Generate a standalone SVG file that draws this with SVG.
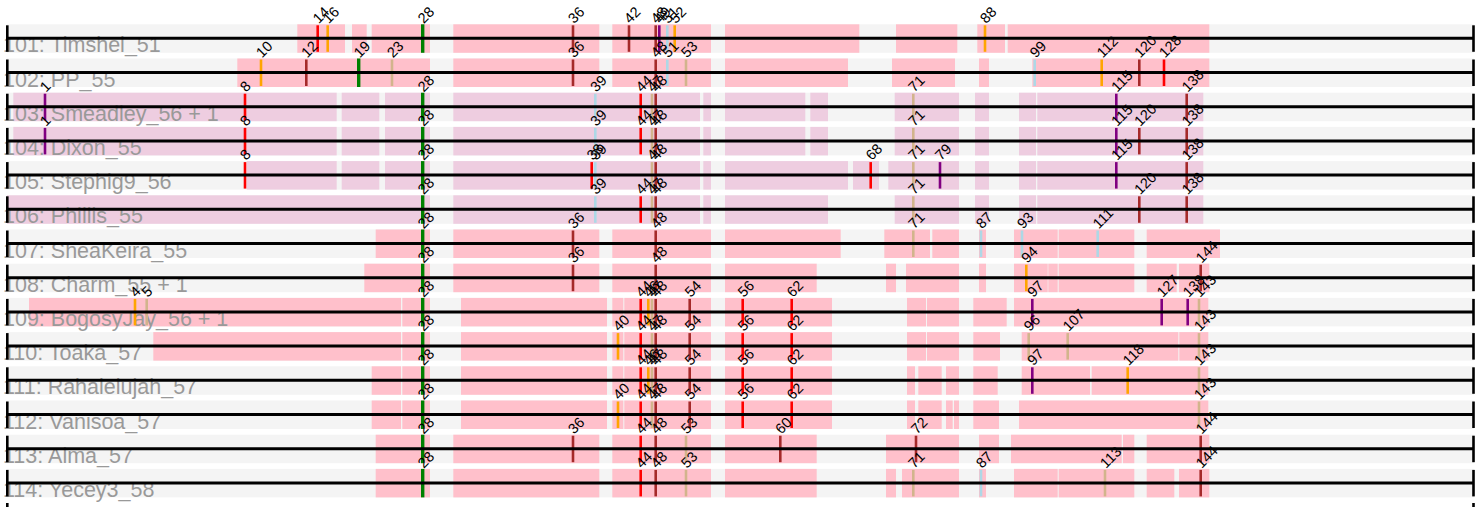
<svg xmlns="http://www.w3.org/2000/svg" width="1484" height="507" viewBox="0 0 1484 507">
<style>
.band{fill:#f4f4f4}
.pk{fill:#ffc0cb}
.mv{fill:#eecde0}
.nm{font-family:"Liberation Sans",Arial,sans-serif;font-size:21.5px;fill:#999999}
.lb{font-family:"Liberation Sans",Arial,sans-serif;font-size:14.5px;fill:#000000}
.ml{stroke:#000;stroke-width:3}
.tk{stroke:#000;stroke-width:2.6}
.m{stroke-width:2.6}
.r{stroke:#ff0000}.o{stroke:#ffa500}.g{stroke:#008000;stroke-width:3.4}.b{stroke:#a52a2a}.t{stroke:#d2b48c}.l{stroke:#add8e6}.p{stroke:#800080}
</style>
<g id="row101" transform="translate(0,38.3)">
<rect class="band" x="7" y="-14" width="1467" height="28.5"/>
<rect class="pk" x="297.3" y="-14" width="47.7" height="28.5"/><rect class="pk" x="352" y="-14" width="14.7" height="28.5"/><rect class="pk" x="371.7" y="-14" width="58.3" height="28.5"/><rect class="pk" x="453.3" y="-14" width="146" height="28.5"/><rect class="pk" x="612.3" y="-14" width="98.7" height="28.5"/><rect class="pk" x="725" y="-14" width="134.3" height="28.5"/><rect class="pk" x="896" y="-14" width="61.3" height="28.5"/><rect class="pk" x="977.3" y="-14" width="27.7" height="28.5"/><rect class="pk" x="1007.7" y="-14" width="201.6" height="28.5"/>
<text class="nm" x="3" y="14">101: Timshel_51</text>
<line class="m r" x1="317.7" x2="317.7" y1="-13" y2="13.5"/><line class="m o" x1="327.7" x2="327.7" y1="-13" y2="13.5"/><line class="m g" x1="422.7" x2="422.7" y1="-14" y2="14.5"/><line class="m b" x1="573" x2="573" y1="-13" y2="13.5"/><line class="m b" x1="629" x2="629" y1="-13" y2="13.5"/><line class="m b" x1="655.7" x2="655.7" y1="-13" y2="13.5"/><line class="m p" x1="659.3" x2="659.3" y1="-13" y2="13.5"/><line class="m l" x1="667.3" x2="667.3" y1="-13" y2="13.5"/><line class="m o" x1="674.7" x2="674.7" y1="-13" y2="13.5"/><line class="m o" x1="985" x2="985" y1="-13" y2="13.5"/>
<line class="ml" x1="7" x2="1474" y1="0" y2="0"/><line class="tk" x1="7.3" x2="7.3" y1="-13" y2="13.5"/><line class="tk" x1="1473.5" x2="1473.5" y1="-13" y2="13.5"/>
<text class="lb" transform="translate(318.7,-14) rotate(-45)">14</text><text class="lb" transform="translate(328.7,-14) rotate(-45)">16</text><text class="lb" transform="translate(423.7,-14) rotate(-45)">28</text><text class="lb" transform="translate(574,-14) rotate(-45)">36</text><text class="lb" transform="translate(630,-14) rotate(-45)">42</text><text class="lb" transform="translate(656.7,-14) rotate(-45)">48</text><text class="lb" transform="translate(660.3,-14) rotate(-45)">49</text><text class="lb" transform="translate(668.3,-14) rotate(-45)">51</text><text class="lb" transform="translate(675.7,-14) rotate(-45)">52</text><text class="lb" transform="translate(986,-14) rotate(-45)">88</text>
</g>
<g id="row102" transform="translate(0,72.5)">
<rect class="band" x="7" y="-14" width="1467" height="28.5"/>
<rect class="pk" x="237.3" y="-14" width="192.7" height="28.5"/><rect class="pk" x="453.3" y="-14" width="146" height="28.5"/><rect class="pk" x="612.3" y="-14" width="98.7" height="28.5"/><rect class="pk" x="725" y="-14" width="123" height="28.5"/><rect class="pk" x="892" y="-14" width="63" height="28.5"/><rect class="pk" x="979" y="-14" width="10" height="28.5"/><rect class="pk" x="1032.3" y="-14" width="177" height="28.5"/>
<text class="nm" x="3" y="14">102: PP_55</text>
<line class="m o" x1="261" x2="261" y1="-13" y2="13.5"/><line class="m b" x1="306.3" x2="306.3" y1="-13" y2="13.5"/><line class="m g" x1="358.7" x2="358.7" y1="-14" y2="14.5"/><line class="m t" x1="392" x2="392" y1="-13" y2="13.5"/><line class="m b" x1="573" x2="573" y1="-13" y2="13.5"/><line class="m b" x1="655.7" x2="655.7" y1="-13" y2="13.5"/><line class="m l" x1="667.3" x2="667.3" y1="-13" y2="13.5"/><line class="m t" x1="686" x2="686" y1="-13" y2="13.5"/><line class="m l" x1="1034.7" x2="1034.7" y1="-13" y2="13.5"/><line class="m o" x1="1101.7" x2="1101.7" y1="-13" y2="13.5"/><line class="m b" x1="1139.3" x2="1139.3" y1="-13" y2="13.5"/><line class="m r" x1="1164" x2="1164" y1="-13" y2="13.5"/>
<line class="ml" x1="7" x2="1474" y1="0" y2="0"/><line class="tk" x1="7.3" x2="7.3" y1="-13" y2="13.5"/><line class="tk" x1="1473.5" x2="1473.5" y1="-13" y2="13.5"/>
<text class="lb" transform="translate(262,-14) rotate(-45)">10</text><text class="lb" transform="translate(307.3,-14) rotate(-45)">12</text><text class="lb" transform="translate(359.7,-14) rotate(-45)">19</text><text class="lb" transform="translate(393,-14) rotate(-45)">23</text><text class="lb" transform="translate(574,-14) rotate(-45)">36</text><text class="lb" transform="translate(656.7,-14) rotate(-45)">48</text><text class="lb" transform="translate(668.3,-14) rotate(-45)">51</text><text class="lb" transform="translate(687,-14) rotate(-45)">53</text><text class="lb" transform="translate(1035.7,-14) rotate(-45)">99</text><text class="lb" transform="translate(1102.7,-14) rotate(-45)">112</text><text class="lb" transform="translate(1140.3,-14) rotate(-45)">120</text><text class="lb" transform="translate(1165,-14) rotate(-45)">128</text>
</g>
<g id="row103" transform="translate(0,106.7)">
<rect class="band" x="7" y="-14" width="1467" height="28.5"/>
<rect class="mv" x="13.3" y="-14" width="323.4" height="28.5"/><rect class="mv" x="341.7" y="-14" width="37.6" height="28.5"/><rect class="mv" x="385" y="-14" width="45" height="28.5"/><rect class="mv" x="453.3" y="-14" width="246.7" height="28.5"/><rect class="mv" x="703.3" y="-14" width="7.7" height="28.5"/><rect class="mv" x="725" y="-14" width="80.3" height="28.5"/><rect class="mv" x="810.3" y="-14" width="17.7" height="28.5"/><rect class="mv" x="894.7" y="-14" width="64.3" height="28.5"/><rect class="mv" x="975" y="-14" width="14" height="28.5"/><rect class="mv" x="1019" y="-14" width="17" height="28.5"/><rect class="mv" x="1037.3" y="-14" width="166" height="28.5"/>
<text class="nm" x="3" y="14">103: Smeadley_56 + 1</text>
<line class="m p" x1="45" x2="45" y1="-13" y2="13.5"/><line class="m r" x1="245" x2="245" y1="-13" y2="13.5"/><line class="m g" x1="422.7" x2="422.7" y1="-14" y2="14.5"/><line class="m l" x1="595.3" x2="595.3" y1="-13" y2="13.5"/><line class="m r" x1="640.7" x2="640.7" y1="-13" y2="13.5"/><line class="m t" x1="652" x2="652" y1="-13" y2="13.5"/><line class="m b" x1="655.7" x2="655.7" y1="-13" y2="13.5"/><line class="m t" x1="913.3" x2="913.3" y1="-13" y2="13.5"/><line class="m p" x1="1116.3" x2="1116.3" y1="-13" y2="13.5"/><line class="m b" x1="1186.7" x2="1186.7" y1="-13" y2="13.5"/>
<line class="ml" x1="7" x2="1474" y1="0" y2="0"/><line class="tk" x1="7.3" x2="7.3" y1="-13" y2="13.5"/><line class="tk" x1="1473.5" x2="1473.5" y1="-13" y2="13.5"/>
<text class="lb" transform="translate(46,-14) rotate(-45)">1</text><text class="lb" transform="translate(246,-14) rotate(-45)">8</text><text class="lb" transform="translate(423.7,-14) rotate(-45)">28</text><text class="lb" transform="translate(596.3,-14) rotate(-45)">39</text><text class="lb" transform="translate(641.7,-14) rotate(-45)">44</text><text class="lb" transform="translate(653,-14) rotate(-45)">47</text><text class="lb" transform="translate(656.7,-14) rotate(-45)">48</text><text class="lb" transform="translate(914.3,-14) rotate(-45)">71</text><text class="lb" transform="translate(1117.3,-14) rotate(-45)">115</text><text class="lb" transform="translate(1187.7,-14) rotate(-45)">138</text>
</g>
<g id="row104" transform="translate(0,140.9)">
<rect class="band" x="7" y="-14" width="1467" height="28.5"/>
<rect class="mv" x="13.3" y="-14" width="323.4" height="28.5"/><rect class="mv" x="341.7" y="-14" width="37.6" height="28.5"/><rect class="mv" x="385" y="-14" width="45" height="28.5"/><rect class="mv" x="453.3" y="-14" width="246.7" height="28.5"/><rect class="mv" x="703.3" y="-14" width="7.7" height="28.5"/><rect class="mv" x="725" y="-14" width="80.3" height="28.5"/><rect class="mv" x="810.3" y="-14" width="17.7" height="28.5"/><rect class="mv" x="894.7" y="-14" width="64.3" height="28.5"/><rect class="mv" x="975" y="-14" width="14" height="28.5"/><rect class="mv" x="1019" y="-14" width="17" height="28.5"/><rect class="mv" x="1037.3" y="-14" width="166" height="28.5"/>
<text class="nm" x="3" y="14">104: Dixon_55</text>
<line class="m p" x1="45" x2="45" y1="-13" y2="13.5"/><line class="m r" x1="245" x2="245" y1="-13" y2="13.5"/><line class="m g" x1="422.7" x2="422.7" y1="-14" y2="14.5"/><line class="m l" x1="595.3" x2="595.3" y1="-13" y2="13.5"/><line class="m r" x1="640.7" x2="640.7" y1="-13" y2="13.5"/><line class="m t" x1="652" x2="652" y1="-13" y2="13.5"/><line class="m b" x1="655.7" x2="655.7" y1="-13" y2="13.5"/><line class="m t" x1="913.3" x2="913.3" y1="-13" y2="13.5"/><line class="m p" x1="1116.3" x2="1116.3" y1="-13" y2="13.5"/><line class="m b" x1="1139.3" x2="1139.3" y1="-13" y2="13.5"/><line class="m b" x1="1186.7" x2="1186.7" y1="-13" y2="13.5"/>
<line class="ml" x1="7" x2="1474" y1="0" y2="0"/><line class="tk" x1="7.3" x2="7.3" y1="-13" y2="13.5"/><line class="tk" x1="1473.5" x2="1473.5" y1="-13" y2="13.5"/>
<text class="lb" transform="translate(46,-14) rotate(-45)">1</text><text class="lb" transform="translate(246,-14) rotate(-45)">8</text><text class="lb" transform="translate(423.7,-14) rotate(-45)">28</text><text class="lb" transform="translate(596.3,-14) rotate(-45)">39</text><text class="lb" transform="translate(641.7,-14) rotate(-45)">44</text><text class="lb" transform="translate(653,-14) rotate(-45)">47</text><text class="lb" transform="translate(656.7,-14) rotate(-45)">48</text><text class="lb" transform="translate(914.3,-14) rotate(-45)">71</text><text class="lb" transform="translate(1117.3,-14) rotate(-45)">115</text><text class="lb" transform="translate(1140.3,-14) rotate(-45)">120</text><text class="lb" transform="translate(1187.7,-14) rotate(-45)">138</text>
</g>
<g id="row105" transform="translate(0,175.1)">
<rect class="band" x="7" y="-14" width="1467" height="28.5"/>
<rect class="mv" x="246.7" y="-14" width="90" height="28.5"/><rect class="mv" x="341.7" y="-14" width="37.6" height="28.5"/><rect class="mv" x="385" y="-14" width="45" height="28.5"/><rect class="mv" x="453.3" y="-14" width="246.7" height="28.5"/><rect class="mv" x="703.3" y="-14" width="7.7" height="28.5"/><rect class="mv" x="725" y="-14" width="123" height="28.5"/><rect class="mv" x="853" y="-14" width="26" height="28.5"/><rect class="mv" x="888.3" y="-14" width="70.7" height="28.5"/><rect class="mv" x="975" y="-14" width="14" height="28.5"/><rect class="mv" x="1019" y="-14" width="17" height="28.5"/><rect class="mv" x="1037.3" y="-14" width="166" height="28.5"/>
<text class="nm" x="3" y="14">105: Stephig9_56</text>
<line class="m r" x1="245" x2="245" y1="-13" y2="13.5"/><line class="m g" x1="422.7" x2="422.7" y1="-14" y2="14.5"/><line class="m r" x1="591.7" x2="591.7" y1="-13" y2="13.5"/><line class="m l" x1="595.3" x2="595.3" y1="-13" y2="13.5"/><line class="m t" x1="652" x2="652" y1="-13" y2="13.5"/><line class="m b" x1="655.7" x2="655.7" y1="-13" y2="13.5"/><line class="m r" x1="870.7" x2="870.7" y1="-13" y2="13.5"/><line class="m t" x1="913.3" x2="913.3" y1="-13" y2="13.5"/><line class="m p" x1="940" x2="940" y1="-13" y2="13.5"/><line class="m p" x1="1116.3" x2="1116.3" y1="-13" y2="13.5"/><line class="m b" x1="1186.7" x2="1186.7" y1="-13" y2="13.5"/>
<line class="ml" x1="7" x2="1474" y1="0" y2="0"/><line class="tk" x1="7.3" x2="7.3" y1="-13" y2="13.5"/><line class="tk" x1="1473.5" x2="1473.5" y1="-13" y2="13.5"/>
<text class="lb" transform="translate(246,-14) rotate(-45)">8</text><text class="lb" transform="translate(423.7,-14) rotate(-45)">28</text><text class="lb" transform="translate(592.7,-14) rotate(-45)">38</text><text class="lb" transform="translate(596.3,-14) rotate(-45)">39</text><text class="lb" transform="translate(653,-14) rotate(-45)">47</text><text class="lb" transform="translate(656.7,-14) rotate(-45)">48</text><text class="lb" transform="translate(871.7,-14) rotate(-45)">68</text><text class="lb" transform="translate(914.3,-14) rotate(-45)">71</text><text class="lb" transform="translate(941,-14) rotate(-45)">79</text><text class="lb" transform="translate(1117.3,-14) rotate(-45)">115</text><text class="lb" transform="translate(1187.7,-14) rotate(-45)">138</text>
</g>
<g id="row106" transform="translate(0,209.3)">
<rect class="band" x="7" y="-14" width="1467" height="28.5"/>
<rect class="mv" x="7" y="-14" width="423" height="28.5"/><rect class="mv" x="453.3" y="-14" width="246.7" height="28.5"/><rect class="mv" x="703.3" y="-14" width="7.7" height="28.5"/><rect class="mv" x="725" y="-14" width="103" height="28.5"/><rect class="mv" x="894.7" y="-14" width="64.3" height="28.5"/><rect class="mv" x="975" y="-14" width="14" height="28.5"/><rect class="mv" x="1019" y="-14" width="17" height="28.5"/><rect class="mv" x="1037.3" y="-14" width="166" height="28.5"/>
<text class="nm" x="3" y="14">106: Phillis_55</text>
<line class="m g" x1="422.7" x2="422.7" y1="-14" y2="14.5"/><line class="m l" x1="595.3" x2="595.3" y1="-13" y2="13.5"/><line class="m r" x1="640.7" x2="640.7" y1="-13" y2="13.5"/><line class="m t" x1="652" x2="652" y1="-13" y2="13.5"/><line class="m b" x1="655.7" x2="655.7" y1="-13" y2="13.5"/><line class="m t" x1="913.3" x2="913.3" y1="-13" y2="13.5"/><line class="m b" x1="1139.3" x2="1139.3" y1="-13" y2="13.5"/><line class="m b" x1="1186.7" x2="1186.7" y1="-13" y2="13.5"/>
<line class="ml" x1="7" x2="1474" y1="0" y2="0"/><line class="tk" x1="7.3" x2="7.3" y1="-13" y2="13.5"/><line class="tk" x1="1473.5" x2="1473.5" y1="-13" y2="13.5"/>
<text class="lb" transform="translate(423.7,-14) rotate(-45)">28</text><text class="lb" transform="translate(596.3,-14) rotate(-45)">39</text><text class="lb" transform="translate(641.7,-14) rotate(-45)">44</text><text class="lb" transform="translate(653,-14) rotate(-45)">47</text><text class="lb" transform="translate(656.7,-14) rotate(-45)">48</text><text class="lb" transform="translate(914.3,-14) rotate(-45)">71</text><text class="lb" transform="translate(1140.3,-14) rotate(-45)">120</text><text class="lb" transform="translate(1187.7,-14) rotate(-45)">138</text>
</g>
<g id="row107" transform="translate(0,243.5)">
<rect class="band" x="7" y="-14" width="1467" height="28.5"/>
<rect class="pk" x="375.7" y="-14" width="54.3" height="28.5"/><rect class="pk" x="453.3" y="-14" width="146" height="28.5"/><rect class="pk" x="612.3" y="-14" width="98.7" height="28.5"/><rect class="pk" x="725" y="-14" width="115.7" height="28.5"/><rect class="pk" x="884.3" y="-14" width="45.7" height="28.5"/><rect class="pk" x="932.3" y="-14" width="26.7" height="28.5"/><rect class="pk" x="979" y="-14" width="7" height="28.5"/><rect class="pk" x="1014" y="-14" width="43.7" height="28.5"/><rect class="pk" x="1058.7" y="-14" width="75.6" height="28.5"/><rect class="pk" x="1146.7" y="-14" width="73.3" height="28.5"/>
<text class="nm" x="3" y="14">107: SheaKeira_55</text>
<line class="m g" x1="422.7" x2="422.7" y1="-14" y2="14.5"/><line class="m b" x1="573" x2="573" y1="-13" y2="13.5"/><line class="m b" x1="655.7" x2="655.7" y1="-13" y2="13.5"/><line class="m t" x1="913.3" x2="913.3" y1="-13" y2="13.5"/><line class="m l" x1="981" x2="981" y1="-13" y2="13.5"/><line class="m l" x1="1022" x2="1022" y1="-13" y2="13.5"/><line class="m l" x1="1097.7" x2="1097.7" y1="-13" y2="13.5"/>
<line class="ml" x1="7" x2="1474" y1="0" y2="0"/><line class="tk" x1="7.3" x2="7.3" y1="-13" y2="13.5"/><line class="tk" x1="1473.5" x2="1473.5" y1="-13" y2="13.5"/>
<text class="lb" transform="translate(423.7,-14) rotate(-45)">28</text><text class="lb" transform="translate(574,-14) rotate(-45)">36</text><text class="lb" transform="translate(656.7,-14) rotate(-45)">48</text><text class="lb" transform="translate(914.3,-14) rotate(-45)">71</text><text class="lb" transform="translate(982,-14) rotate(-45)">87</text><text class="lb" transform="translate(1023,-14) rotate(-45)">93</text><text class="lb" transform="translate(1098.7,-14) rotate(-45)">111</text>
</g>
<g id="row108" transform="translate(0,277.7)">
<rect class="band" x="7" y="-14" width="1467" height="28.5"/>
<rect class="pk" x="364.3" y="-14" width="65.7" height="28.5"/><rect class="pk" x="453.3" y="-14" width="146" height="28.5"/><rect class="pk" x="612.3" y="-14" width="98.7" height="28.5"/><rect class="pk" x="725" y="-14" width="91.7" height="28.5"/><rect class="pk" x="886" y="-14" width="10" height="28.5"/><rect class="pk" x="906" y="-14" width="53" height="28.5"/><rect class="pk" x="979" y="-14" width="7" height="28.5"/><rect class="pk" x="1014" y="-14" width="33.7" height="28.5"/><rect class="pk" x="1048.3" y="-14" width="9.4" height="28.5"/><rect class="pk" x="1058.7" y="-14" width="75.6" height="28.5"/><rect class="pk" x="1146.7" y="-14" width="30" height="28.5"/><rect class="pk" x="1179" y="-14" width="30.3" height="28.5"/>
<text class="nm" x="3" y="14">108: Charm_55 + 1</text>
<line class="m g" x1="422.7" x2="422.7" y1="-14" y2="14.5"/><line class="m b" x1="573" x2="573" y1="-13" y2="13.5"/><line class="m b" x1="655.7" x2="655.7" y1="-13" y2="13.5"/><line class="m o" x1="1026.3" x2="1026.3" y1="-13" y2="13.5"/><line class="m b" x1="1200.7" x2="1200.7" y1="-13" y2="13.5"/>
<line class="ml" x1="7" x2="1474" y1="0" y2="0"/><line class="tk" x1="7.3" x2="7.3" y1="-13" y2="13.5"/><line class="tk" x1="1473.5" x2="1473.5" y1="-13" y2="13.5"/>
<text class="lb" transform="translate(423.7,-14) rotate(-45)">28</text><text class="lb" transform="translate(574,-14) rotate(-45)">36</text><text class="lb" transform="translate(656.7,-14) rotate(-45)">48</text><text class="lb" transform="translate(1027.3,-14) rotate(-45)">94</text><text class="lb" transform="translate(1201.7,-14) rotate(-45)">144</text>
</g>
<g id="row109" transform="translate(0,311.9)">
<rect class="band" x="7" y="-14" width="1467" height="28.5"/>
<rect class="pk" x="29" y="-14" width="372" height="28.5"/><rect class="pk" x="402.3" y="-14" width="27.7" height="28.5"/><rect class="pk" x="461" y="-14" width="146" height="28.5"/><rect class="pk" x="612.3" y="-14" width="11" height="28.5"/><rect class="pk" x="624.3" y="-14" width="86.7" height="28.5"/><rect class="pk" x="725" y="-14" width="107" height="28.5"/><rect class="pk" x="907" y="-14" width="19" height="28.5"/><rect class="pk" x="927" y="-14" width="32" height="28.5"/><rect class="pk" x="973.3" y="-14" width="33.4" height="28.5"/><rect class="pk" x="1014" y="-14" width="194.3" height="28.5"/>
<text class="nm" x="3" y="14">109: BogosyJay_56 + 1</text>
<line class="m o" x1="135" x2="135" y1="-13" y2="13.5"/><line class="m t" x1="146.7" x2="146.7" y1="-13" y2="13.5"/><line class="m g" x1="422.7" x2="422.7" y1="-14" y2="14.5"/><line class="m r" x1="640.7" x2="640.7" y1="-13" y2="13.5"/><line class="m o" x1="648.3" x2="648.3" y1="-13" y2="13.5"/><line class="m t" x1="652" x2="652" y1="-13" y2="13.5"/><line class="m b" x1="655.7" x2="655.7" y1="-13" y2="13.5"/><line class="m b" x1="689.7" x2="689.7" y1="-13" y2="13.5"/><line class="m r" x1="742.7" x2="742.7" y1="-13" y2="13.5"/><line class="m r" x1="791.7" x2="791.7" y1="-13" y2="13.5"/><line class="m p" x1="1032.3" x2="1032.3" y1="-13" y2="13.5"/><line class="m p" x1="1161.7" x2="1161.7" y1="-13" y2="13.5"/><line class="m p" x1="1187.7" x2="1187.7" y1="-13" y2="13.5"/><line class="m t" x1="1199" x2="1199" y1="-13" y2="13.5"/>
<line class="ml" x1="7" x2="1474" y1="0" y2="0"/><line class="tk" x1="7.3" x2="7.3" y1="-13" y2="13.5"/><line class="tk" x1="1473.5" x2="1473.5" y1="-13" y2="13.5"/>
<text class="lb" transform="translate(136,-14) rotate(-45)">4</text><text class="lb" transform="translate(147.7,-14) rotate(-45)">5</text><text class="lb" transform="translate(423.7,-14) rotate(-45)">28</text><text class="lb" transform="translate(641.7,-14) rotate(-45)">44</text><text class="lb" transform="translate(649.3,-14) rotate(-45)">46</text><text class="lb" transform="translate(653,-14) rotate(-45)">47</text><text class="lb" transform="translate(656.7,-14) rotate(-45)">48</text><text class="lb" transform="translate(690.7,-14) rotate(-45)">54</text><text class="lb" transform="translate(743.7,-14) rotate(-45)">56</text><text class="lb" transform="translate(792.7,-14) rotate(-45)">62</text><text class="lb" transform="translate(1033.3,-14) rotate(-45)">97</text><text class="lb" transform="translate(1162.7,-14) rotate(-45)">127</text><text class="lb" transform="translate(1188.7,-14) rotate(-45)">138</text><text class="lb" transform="translate(1200,-14) rotate(-45)">143</text>
</g>
<g id="row110" transform="translate(0,346.1)">
<rect class="band" x="7" y="-14" width="1467" height="28.5"/>
<rect class="pk" x="153.3" y="-14" width="247.7" height="28.5"/><rect class="pk" x="402.3" y="-14" width="27.7" height="28.5"/><rect class="pk" x="461" y="-14" width="146" height="28.5"/><rect class="pk" x="612.3" y="-14" width="11" height="28.5"/><rect class="pk" x="624.3" y="-14" width="86.7" height="28.5"/><rect class="pk" x="725" y="-14" width="107" height="28.5"/><rect class="pk" x="907" y="-14" width="19" height="28.5"/><rect class="pk" x="927" y="-14" width="32" height="28.5"/><rect class="pk" x="973.3" y="-14" width="26.7" height="28.5"/><rect class="pk" x="1021.7" y="-14" width="156.6" height="28.5"/><rect class="pk" x="1179.3" y="-14" width="29" height="28.5"/>
<text class="nm" x="3" y="14">110: Toaka_57</text>
<line class="m g" x1="422.7" x2="422.7" y1="-14" y2="14.5"/><line class="m o" x1="618" x2="618" y1="-13" y2="13.5"/><line class="m r" x1="640.7" x2="640.7" y1="-13" y2="13.5"/><line class="m t" x1="652" x2="652" y1="-13" y2="13.5"/><line class="m b" x1="655.7" x2="655.7" y1="-13" y2="13.5"/><line class="m b" x1="689.7" x2="689.7" y1="-13" y2="13.5"/><line class="m r" x1="742.7" x2="742.7" y1="-13" y2="13.5"/><line class="m r" x1="791.7" x2="791.7" y1="-13" y2="13.5"/><line class="m t" x1="1028.7" x2="1028.7" y1="-13" y2="13.5"/><line class="m t" x1="1067.7" x2="1067.7" y1="-13" y2="13.5"/><line class="m t" x1="1199" x2="1199" y1="-13" y2="13.5"/>
<line class="ml" x1="7" x2="1474" y1="0" y2="0"/><line class="tk" x1="7.3" x2="7.3" y1="-13" y2="13.5"/><line class="tk" x1="1473.5" x2="1473.5" y1="-13" y2="13.5"/>
<text class="lb" transform="translate(423.7,-14) rotate(-45)">28</text><text class="lb" transform="translate(619,-14) rotate(-45)">40</text><text class="lb" transform="translate(641.7,-14) rotate(-45)">44</text><text class="lb" transform="translate(653,-14) rotate(-45)">47</text><text class="lb" transform="translate(656.7,-14) rotate(-45)">48</text><text class="lb" transform="translate(690.7,-14) rotate(-45)">54</text><text class="lb" transform="translate(743.7,-14) rotate(-45)">56</text><text class="lb" transform="translate(792.7,-14) rotate(-45)">62</text><text class="lb" transform="translate(1029.7,-14) rotate(-45)">96</text><text class="lb" transform="translate(1068.7,-14) rotate(-45)">107</text><text class="lb" transform="translate(1200,-14) rotate(-45)">143</text>
</g>
<g id="row111" transform="translate(0,380.3)">
<rect class="band" x="7" y="-14" width="1467" height="28.5"/>
<rect class="pk" x="371.7" y="-14" width="29.3" height="28.5"/><rect class="pk" x="402.3" y="-14" width="27.7" height="28.5"/><rect class="pk" x="461" y="-14" width="146" height="28.5"/><rect class="pk" x="612.3" y="-14" width="11" height="28.5"/><rect class="pk" x="624.3" y="-14" width="86.7" height="28.5"/><rect class="pk" x="725" y="-14" width="107" height="28.5"/><rect class="pk" x="907" y="-14" width="8" height="28.5"/><rect class="pk" x="918.3" y="-14" width="23.4" height="28.5"/><rect class="pk" x="946" y="-14" width="13" height="28.5"/><rect class="pk" x="973.3" y="-14" width="24.4" height="28.5"/><rect class="pk" x="1021.7" y="-14" width="68.3" height="28.5"/><rect class="pk" x="1091.7" y="-14" width="116.6" height="28.5"/>
<text class="nm" x="3" y="14">111: Rahalelujah_57</text>
<line class="m g" x1="422.7" x2="422.7" y1="-14" y2="14.5"/><line class="m r" x1="640.7" x2="640.7" y1="-13" y2="13.5"/><line class="m o" x1="648.3" x2="648.3" y1="-13" y2="13.5"/><line class="m t" x1="652" x2="652" y1="-13" y2="13.5"/><line class="m b" x1="655.7" x2="655.7" y1="-13" y2="13.5"/><line class="m b" x1="689.7" x2="689.7" y1="-13" y2="13.5"/><line class="m r" x1="742.7" x2="742.7" y1="-13" y2="13.5"/><line class="m r" x1="791.7" x2="791.7" y1="-13" y2="13.5"/><line class="m p" x1="1032.3" x2="1032.3" y1="-13" y2="13.5"/><line class="m o" x1="1127.7" x2="1127.7" y1="-13" y2="13.5"/><line class="m t" x1="1199" x2="1199" y1="-13" y2="13.5"/>
<line class="ml" x1="7" x2="1474" y1="0" y2="0"/><line class="tk" x1="7.3" x2="7.3" y1="-13" y2="13.5"/><line class="tk" x1="1473.5" x2="1473.5" y1="-13" y2="13.5"/>
<text class="lb" transform="translate(423.7,-14) rotate(-45)">28</text><text class="lb" transform="translate(641.7,-14) rotate(-45)">44</text><text class="lb" transform="translate(649.3,-14) rotate(-45)">46</text><text class="lb" transform="translate(653,-14) rotate(-45)">47</text><text class="lb" transform="translate(656.7,-14) rotate(-45)">48</text><text class="lb" transform="translate(690.7,-14) rotate(-45)">54</text><text class="lb" transform="translate(743.7,-14) rotate(-45)">56</text><text class="lb" transform="translate(792.7,-14) rotate(-45)">62</text><text class="lb" transform="translate(1033.3,-14) rotate(-45)">97</text><text class="lb" transform="translate(1128.7,-14) rotate(-45)">118</text><text class="lb" transform="translate(1200,-14) rotate(-45)">143</text>
</g>
<g id="row112" transform="translate(0,414.5)">
<rect class="band" x="7" y="-14" width="1467" height="28.5"/>
<rect class="pk" x="371.7" y="-14" width="29.3" height="28.5"/><rect class="pk" x="402.3" y="-14" width="27.7" height="28.5"/><rect class="pk" x="461" y="-14" width="146" height="28.5"/><rect class="pk" x="612.3" y="-14" width="11" height="28.5"/><rect class="pk" x="624.3" y="-14" width="86.7" height="28.5"/><rect class="pk" x="725" y="-14" width="107" height="28.5"/><rect class="pk" x="907" y="-14" width="8" height="28.5"/><rect class="pk" x="918.3" y="-14" width="23.4" height="28.5"/><rect class="pk" x="946" y="-14" width="6.7" height="28.5"/><rect class="pk" x="954" y="-14" width="5" height="28.5"/><rect class="pk" x="973.3" y="-14" width="25.7" height="28.5"/><rect class="pk" x="1019" y="-14" width="189.3" height="28.5"/>
<text class="nm" x="3" y="14">112: Vanisoa_57</text>
<line class="m g" x1="422.7" x2="422.7" y1="-14" y2="14.5"/><line class="m o" x1="618" x2="618" y1="-13" y2="13.5"/><line class="m r" x1="640.7" x2="640.7" y1="-13" y2="13.5"/><line class="m t" x1="652" x2="652" y1="-13" y2="13.5"/><line class="m b" x1="655.7" x2="655.7" y1="-13" y2="13.5"/><line class="m b" x1="689.7" x2="689.7" y1="-13" y2="13.5"/><line class="m r" x1="742.7" x2="742.7" y1="-13" y2="13.5"/><line class="m r" x1="791.7" x2="791.7" y1="-13" y2="13.5"/><line class="m t" x1="1199" x2="1199" y1="-13" y2="13.5"/>
<line class="ml" x1="7" x2="1474" y1="0" y2="0"/><line class="tk" x1="7.3" x2="7.3" y1="-13" y2="13.5"/><line class="tk" x1="1473.5" x2="1473.5" y1="-13" y2="13.5"/>
<text class="lb" transform="translate(423.7,-14) rotate(-45)">28</text><text class="lb" transform="translate(619,-14) rotate(-45)">40</text><text class="lb" transform="translate(641.7,-14) rotate(-45)">44</text><text class="lb" transform="translate(653,-14) rotate(-45)">47</text><text class="lb" transform="translate(656.7,-14) rotate(-45)">48</text><text class="lb" transform="translate(690.7,-14) rotate(-45)">54</text><text class="lb" transform="translate(743.7,-14) rotate(-45)">56</text><text class="lb" transform="translate(792.7,-14) rotate(-45)">62</text><text class="lb" transform="translate(1200,-14) rotate(-45)">143</text>
</g>
<g id="row113" transform="translate(0,448.7)">
<rect class="band" x="7" y="-14" width="1467" height="28.5"/>
<rect class="pk" x="375.7" y="-14" width="54.3" height="28.5"/><rect class="pk" x="453.3" y="-14" width="146" height="28.5"/><rect class="pk" x="612.3" y="-14" width="98.7" height="28.5"/><rect class="pk" x="725" y="-14" width="91.7" height="28.5"/><rect class="pk" x="886" y="-14" width="73" height="28.5"/><rect class="pk" x="979" y="-14" width="20" height="28.5"/><rect class="pk" x="1011" y="-14" width="110.7" height="28.5"/><rect class="pk" x="1123" y="-14" width="11.3" height="28.5"/><rect class="pk" x="1146.7" y="-14" width="62.6" height="28.5"/>
<text class="nm" x="3" y="14">113: Alma_57</text>
<line class="m g" x1="422.7" x2="422.7" y1="-14" y2="14.5"/><line class="m b" x1="573" x2="573" y1="-13" y2="13.5"/><line class="m r" x1="640.7" x2="640.7" y1="-13" y2="13.5"/><line class="m b" x1="655.7" x2="655.7" y1="-13" y2="13.5"/><line class="m t" x1="686" x2="686" y1="-13" y2="13.5"/><line class="m b" x1="780.3" x2="780.3" y1="-13" y2="13.5"/><line class="m b" x1="916" x2="916" y1="-13" y2="13.5"/><line class="m b" x1="1200.7" x2="1200.7" y1="-13" y2="13.5"/>
<line class="ml" x1="7" x2="1474" y1="0" y2="0"/><line class="tk" x1="7.3" x2="7.3" y1="-13" y2="13.5"/><line class="tk" x1="1473.5" x2="1473.5" y1="-13" y2="13.5"/>
<text class="lb" transform="translate(423.7,-14) rotate(-45)">28</text><text class="lb" transform="translate(574,-14) rotate(-45)">36</text><text class="lb" transform="translate(641.7,-14) rotate(-45)">44</text><text class="lb" transform="translate(656.7,-14) rotate(-45)">48</text><text class="lb" transform="translate(687,-14) rotate(-45)">53</text><text class="lb" transform="translate(781.3,-14) rotate(-45)">60</text><text class="lb" transform="translate(917,-14) rotate(-45)">72</text><text class="lb" transform="translate(1201.7,-14) rotate(-45)">144</text>
</g>
<g id="row114" transform="translate(0,482.9)">
<rect class="band" x="7" y="-14" width="1467" height="28.5"/>
<rect class="pk" x="375.7" y="-14" width="54.3" height="28.5"/><rect class="pk" x="453.3" y="-14" width="146" height="28.5"/><rect class="pk" x="612.3" y="-14" width="98.7" height="28.5"/><rect class="pk" x="725" y="-14" width="91.7" height="28.5"/><rect class="pk" x="886" y="-14" width="10" height="28.5"/><rect class="pk" x="902" y="-14" width="57" height="28.5"/><rect class="pk" x="979" y="-14" width="7" height="28.5"/><rect class="pk" x="1014" y="-14" width="43.7" height="28.5"/><rect class="pk" x="1058.7" y="-14" width="75.6" height="28.5"/><rect class="pk" x="1146.7" y="-14" width="27.6" height="28.5"/><rect class="pk" x="1179" y="-14" width="30.3" height="28.5"/>
<text class="nm" x="3" y="14">114: Yecey3_58</text>
<line class="m g" x1="422.7" x2="422.7" y1="-14" y2="14.5"/><line class="m r" x1="640.7" x2="640.7" y1="-13" y2="13.5"/><line class="m b" x1="655.7" x2="655.7" y1="-13" y2="13.5"/><line class="m t" x1="686" x2="686" y1="-13" y2="13.5"/><line class="m t" x1="913.3" x2="913.3" y1="-13" y2="13.5"/><line class="m l" x1="981" x2="981" y1="-13" y2="13.5"/><line class="m t" x1="1105" x2="1105" y1="-13" y2="13.5"/><line class="m b" x1="1200.7" x2="1200.7" y1="-13" y2="13.5"/>
<line class="ml" x1="7" x2="1474" y1="0" y2="0"/><line class="tk" x1="7.3" x2="7.3" y1="-13" y2="13.5"/><line class="tk" x1="1473.5" x2="1473.5" y1="-13" y2="13.5"/>
<text class="lb" transform="translate(423.7,-14) rotate(-45)">28</text><text class="lb" transform="translate(641.7,-14) rotate(-45)">44</text><text class="lb" transform="translate(656.7,-14) rotate(-45)">48</text><text class="lb" transform="translate(687,-14) rotate(-45)">53</text><text class="lb" transform="translate(914.3,-14) rotate(-45)">71</text><text class="lb" transform="translate(982,-14) rotate(-45)">87</text><text class="lb" transform="translate(1106,-14) rotate(-45)">113</text><text class="lb" transform="translate(1201.7,-14) rotate(-45)">144</text>
</g>
<g id="connectors">
<line class="tk" x1="7.3" x2="7.3" y1="503" y2="507"/><line class="tk" x1="1473.5" x2="1473.5" y1="503" y2="507"/>
</g>
</svg>
